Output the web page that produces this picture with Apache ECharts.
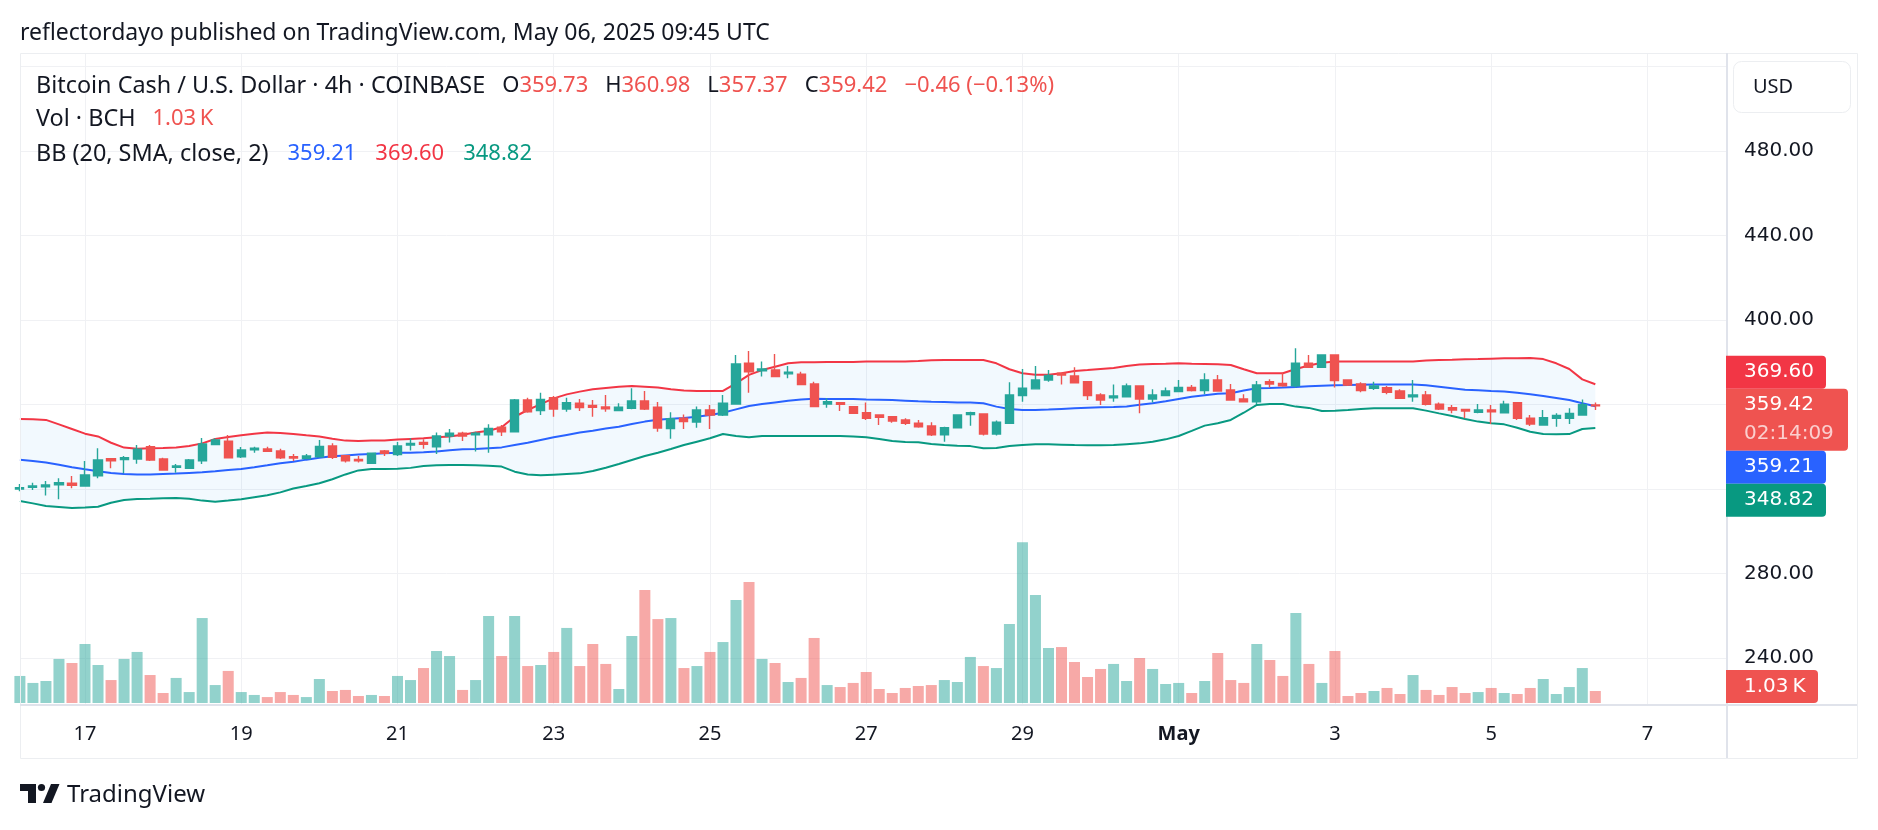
<!DOCTYPE html>
<html>
<head>
<meta charset="utf-8">
<title>BCH/USD 4h - Bollinger Bands</title>
<script src="https://cdn.jsdelivr.net/npm/echarts@6.0.0/dist/echarts.min.js"></script>
<style>
  html, body { margin: 0; padding: 0; background: #fff; }
  #chart { width: 1878px; height: 830px; }
</style>
</head>
<body>
<div id="chart"></div>
<script>
// 4h candles, Apr 16 04:00 UTC .. May 6 08:00 UTC (Coinbase BCH/USD)
const opens = [
  320.0, 320.8, 321.1, 322.0, 322.7, 321.4, 326.2, 334.4, 334.0, 334.2,
  340.0, 334.2, 330.3, 329.8, 333.3, 341.0, 342.6, 335.3, 338.5, 338.9,
  338.0, 335.3, 334.4, 335.3, 340.4, 335.8, 334.0, 332.2, 338.0, 336.3,
  340.8, 342.0, 340.0, 345.1, 346.4, 345.6, 345.6, 349.2, 347.1, 362.1,
  357.1, 363.2, 357.9, 360.6, 359.5, 358.8, 357.1, 358.2, 361.7, 358.7,
  348.6, 353.5, 351.7, 357.4, 355.0, 360.2, 379.5, 376.0, 376.3, 374.5,
  374.3, 369.7, 360.2, 360.9, 359.0, 356.1, 355.0, 354.2, 352.7, 351.1,
  349.8, 345.6, 349.0, 355.3, 355.5, 346.0, 351.1, 364.2, 367.4, 371.6,
  374.8, 373.5, 370.8, 364.5, 363.2, 363.7, 368.8, 362.6, 364.2, 366.1,
  368.1, 366.6, 371.6, 366.9, 362.6, 361.3, 370.8, 370.0, 368.9, 379.5,
  377.6, 383.4, 371.6, 369.7, 367.7, 368.0, 366.4, 363.7, 364.5, 360.2,
  358.5, 357.7, 356.3, 357.4, 356.1, 360.9, 353.5, 350.3, 353.5, 353.5,
  355.0, 359.73
];
const closes = [
  320.6, 321.4, 321.9, 323.0, 321.7, 326.6, 333.7, 333.4, 334.8, 338.8,
  333.7, 329.0, 330.9, 333.7, 341.3, 343.2, 334.8, 338.5, 339.3, 337.8,
  334.8, 334.7, 335.6, 340.2, 335.0, 333.3, 333.3, 336.9, 336.9, 340.4,
  341.6, 341.2, 345.1, 346.4, 345.1, 346.4, 348.7, 347.1, 362.1, 356.6,
  362.4, 357.9, 360.9, 358.5, 358.7, 358.0, 358.7, 361.7, 357.9, 348.9,
  353.3, 351.9, 357.4, 355.0, 360.6, 379.2, 375.5, 376.8, 373.2, 375.3,
  369.5, 359.0, 361.3, 360.1, 355.8, 353.5, 353.9, 352.2, 351.1, 349.5,
  345.6, 349.0, 355.0, 356.1, 346.0, 351.6, 364.5, 367.7, 371.6, 373.7,
  374.0, 370.3, 364.2, 362.1, 364.0, 368.8, 362.6, 364.5, 366.4, 368.1,
  366.6, 371.6, 366.4, 362.1, 361.3, 369.2, 369.7, 368.9, 379.5, 377.6,
  383.4, 371.3, 369.2, 366.6, 368.8, 365.8, 362.9, 364.5, 360.1, 357.9,
  357.4, 356.9, 357.4, 356.6, 360.2, 353.5, 350.8, 353.8, 354.8, 355.8,
  359.88, 359.42
];
const lows = [
  318.9, 319.5, 316.9, 315.1, 320.3, 321.2, 325.1, 329.8, 327.4, 332.0,
  333.3, 328.7, 327.7, 329.6, 331.8, 341.0, 334.8, 334.7, 337.2, 337.8,
  334.2, 333.3, 334.2, 335.3, 334.2, 332.5, 332.5, 331.8, 335.6, 335.6,
  338.2, 339.0, 336.6, 342.0, 342.7, 337.7, 337.2, 345.1, 346.8, 356.1,
  355.0, 354.2, 356.6, 356.9, 354.2, 356.6, 357.1, 357.7, 357.4, 347.1,
  343.8, 348.4, 349.0, 348.4, 354.6, 360.2, 365.6, 373.2, 373.2, 372.4,
  369.5, 358.7, 358.5, 356.9, 355.8, 352.7, 350.3, 351.4, 350.3, 349.0,
  345.1, 342.4, 349.0, 350.0, 345.3, 345.3, 351.1, 361.3, 367.4, 370.8,
  369.5, 370.3, 362.1, 359.8, 361.3, 363.7, 355.8, 360.9, 364.2, 366.1,
  366.1, 364.8, 366.1, 362.1, 360.9, 360.2, 368.1, 368.4, 368.1, 377.6,
  377.6, 368.1, 368.8, 365.8, 366.9, 364.8, 362.9, 361.3, 359.5, 357.4,
  355.8, 353.5, 355.8, 350.8, 356.1, 352.7, 349.8, 350.3, 349.5, 350.8,
  355.0, 357.37
];
const highs = [
  322.4, 323.0, 323.8, 325.1, 326.2, 333.3, 339.3, 334.6, 335.6, 340.8,
  340.8, 334.8, 331.8, 334.2, 344.1, 344.0, 345.6, 339.9, 340.0, 340.0,
  339.1, 336.6, 336.6, 343.2, 341.6, 335.8, 335.6, 336.9, 338.5, 342.3,
  344.0, 343.5, 346.7, 348.4, 347.1, 347.1, 350.6, 350.3, 362.6, 363.2,
  365.6, 364.0, 363.2, 362.6, 362.1, 364.5, 360.6, 367.7, 366.4, 361.2,
  356.3, 355.3, 359.0, 359.8, 364.5, 383.4, 385.3, 380.3, 383.9, 378.2,
  375.5, 370.8, 362.9, 360.9, 359.3, 360.9, 355.3, 354.2, 353.5, 352.7,
  351.6, 349.5, 355.0, 356.6, 355.8, 352.4, 370.5, 376.8, 378.2, 376.3,
  374.8, 377.6, 370.8, 365.3, 369.5, 370.0, 368.8, 367.2, 368.1, 371.6,
  369.2, 374.8, 374.0, 369.7, 364.8, 371.1, 371.9, 375.1, 386.6, 383.4,
  383.7, 383.7, 371.6, 370.5, 370.8, 368.8, 367.2, 371.6, 366.4, 360.9,
  359.8, 357.7, 360.2, 359.8, 361.8, 360.9, 355.0, 357.4, 355.8, 358.2,
  362.4, 360.98
];
// volume, thousands of BCH
const volumes = [
  2.32, 1.72, 1.89, 3.78, 3.43, 5.06, 3.26, 1.97, 3.78, 4.38,
  2.40, 0.86, 2.15, 0.94, 7.29, 1.54, 2.75, 0.94, 0.69, 0.51,
  0.94, 0.69, 0.51, 2.06, 1.03, 1.12, 0.60, 0.69, 0.60, 2.32,
  1.97, 3.00, 4.46, 4.03, 1.12, 1.97, 7.46, 4.03, 7.46, 3.17,
  3.26, 4.38, 6.44, 3.17, 5.06, 3.35, 1.20, 5.75, 9.70, 7.20,
  7.29, 3.00, 3.17, 4.38, 5.23, 8.84, 10.38, 3.78, 3.43, 1.80,
  2.15, 5.58, 1.54, 1.37, 1.72, 2.66, 1.20, 0.86, 1.29, 1.46,
  1.54, 1.97, 1.80, 3.95, 3.17, 3.00, 6.78, 13.80, 9.27, 4.72,
  4.80, 3.52, 2.23, 2.92, 3.35, 1.89, 3.86, 2.92, 1.63, 1.72,
  0.86, 1.89, 4.29, 1.97, 1.72, 5.06, 3.69, 2.32, 7.72, 3.35,
  1.72, 4.46, 0.60, 0.86, 1.03, 1.29, 0.77, 2.40, 1.12, 0.69,
  1.37, 0.86, 0.94, 1.29, 0.86, 0.77, 1.29, 2.06, 0.77, 1.37,
  3.00, 1.03
];
// Bollinger Bands (20, SMA, close, 2)
const bbUpper = [
  353.1, 353.0, 352.7, 350.6, 348.4, 346.2, 344.9, 341.9, 339.6, 339.1,
  339.3, 339.4, 339.7, 340.4, 341.6, 343.7, 344.6, 345.4, 346.2, 346.7,
  346.5, 346.0, 345.4, 344.9, 343.8, 342.9, 342.7, 342.9, 343.0, 343.4,
  343.7, 344.0, 344.5, 344.8, 345.7, 346.7, 347.6, 349.2, 354.2, 357.4,
  360.2, 362.9, 364.8, 366.1, 367.2, 367.8, 368.4, 368.8, 368.4, 368.0,
  367.2, 366.6, 366.4, 366.4, 366.4, 370.0, 374.0, 376.3, 377.9, 379.5,
  380.0, 380.0, 380.1, 380.1, 380.1, 380.3, 380.3, 380.4, 380.4, 380.6,
  380.9, 381.1, 381.1, 381.1, 381.1, 379.5, 376.7, 374.8, 374.1, 374.1,
  374.8, 375.9, 376.3, 376.8, 377.3, 378.2, 378.9, 379.2, 379.3, 379.5,
  379.3, 379.2, 379.0, 378.7, 376.7, 374.8, 374.8, 374.8, 376.8, 378.5,
  379.8, 380.3, 380.3, 380.3, 380.3, 380.3, 380.3, 380.4, 380.8, 381.1,
  381.2, 381.4, 381.5, 381.7, 381.9, 381.9, 382.0, 381.5, 379.5, 376.8,
  371.9, 369.60
];
const bbBasis = [
  333.9, 333.3, 332.5, 331.5, 330.3, 329.3, 328.4, 327.6, 327.1, 326.9,
  326.9, 327.1, 327.3, 327.6, 327.9, 328.4, 329.0, 329.5, 330.3, 331.2,
  332.2, 332.9, 333.9, 334.8, 335.5, 335.9, 336.3, 336.6, 336.9, 337.2,
  337.2, 337.4, 337.8, 338.3, 338.8, 338.9, 339.3, 339.7, 340.8, 341.9,
  343.2, 344.5, 345.6, 346.7, 347.6, 348.6, 349.5, 350.8, 351.9, 352.8,
  353.3, 353.6, 354.2, 355.0, 356.1, 357.7, 359.3, 360.2, 361.0, 361.8,
  362.4, 362.7, 362.6, 362.6, 362.6, 362.4, 362.3, 362.1, 361.8, 361.5,
  361.3, 361.2, 361.0, 360.9, 360.6, 359.0, 357.9, 357.4, 357.4, 357.6,
  357.9, 358.2, 358.5, 358.7, 358.8, 359.1, 359.9, 360.6, 361.5, 362.6,
  363.7, 364.4, 365.1, 365.3, 366.6, 367.7, 367.8, 368.0, 368.3, 368.6,
  368.9, 369.1, 369.2, 369.4, 369.5, 369.5, 369.5, 369.5, 369.1, 368.4,
  367.7, 367.0, 366.7, 366.4, 366.2, 365.6, 364.8, 364.0, 363.1, 362.1,
  360.6, 359.21
];
const bbLower = [
  314.3, 313.2, 312.0, 311.5, 311.0, 311.2, 311.6, 313.5, 314.8, 315.3,
  315.4, 315.6, 315.7, 315.4, 314.5, 314.0, 314.5, 315.1, 316.1, 317.0,
  318.4, 320.2, 321.4, 322.7, 324.6, 326.9, 328.8, 329.5, 329.5, 329.6,
  330.0, 330.9, 331.2, 331.4, 331.4, 331.2, 331.0, 330.6, 328.2, 326.9,
  326.5, 326.8, 327.1, 327.4, 328.5, 330.1, 331.8, 333.7, 335.6, 337.2,
  338.9, 340.8, 342.4, 344.0, 346.0, 345.1, 344.5, 345.1, 345.1, 345.1,
  345.1, 345.1, 345.1, 345.1, 344.9, 344.5, 343.7, 342.7, 342.3, 342.1,
  341.3, 340.8, 340.5, 340.3, 339.3, 339.4, 340.4, 340.8, 341.2, 341.2,
  341.0, 340.8, 340.7, 340.7, 340.8, 341.2, 341.6, 342.4, 343.5, 345.1,
  347.5, 350.0, 351.1, 352.7, 356.1, 359.8, 360.2, 360.2, 359.0, 358.4,
  356.9, 357.1, 357.4, 357.9, 358.2, 358.2, 358.2, 358.2, 357.1, 355.8,
  354.6, 353.1, 351.9, 351.1, 350.6, 349.0, 347.1, 346.0, 345.9, 346.0,
  348.4, 348.82
];
// time axis labels, every second day from Apr 17 00:00 UTC
const dayLabels = ['17', '19', '21', '23', '25', '27', '29', 'May', '3', '5', '7'];
const priceTicks = [480, 440, 400, 280, 240];
const countdown = '02:14:09';

const W = 1878, H = 830;
const PANE_L = 20, PANE_R = 1726, PANE_T = 53, PANE_B = 705;
const SLOT = 13.02;        // px per 4h candle
const FIRST_X = 19.9;      // x of first candle centre
const Y400 = 320, PX_USD = 2.1125;
const VOL_BASE = 703, VOL_H = 200, VOL_MAX = 17.16;
const TEXT = '#131722', GRID = '#f0f1f4';
const UP = '#26a69a', DOWN = '#ef5350';
const AXIS_FONT = '"DejaVu Sans", sans-serif';
const UI_FONT = '"Noto Sans", sans-serif';

const yPrice = p => Y400 + (400 - p) * PX_USD;
const tickLeft = FIRST_X - 7 * SLOT;   // so that tick value 12 sits on Apr 17 00:00
const idx = closes.map((_, i) => i);
const last = closes.length - 1;

const chart = echarts.init(document.getElementById('chart'));

const option = {
  animation: false,
  backgroundColor: '#ffffff',
  grid: [
    { left: PANE_L, right: W - PANE_R, top: yPrice(520), bottom: H - yPrice(240), outerBoundsMode: 'none' },
    { left: PANE_L, right: W - PANE_R, top: VOL_BASE - VOL_H, height: VOL_H, outerBoundsMode: 'none' },
    { left: tickLeft, right: W - PANE_R, top: PANE_T, bottom: H - PANE_B, outerBoundsMode: 'none' }
  ],
  xAxis: [
    { type: 'value', gridIndex: 0, min: (PANE_L - FIRST_X) / SLOT, max: (PANE_R - FIRST_X) / SLOT, show: false },
    { type: 'value', gridIndex: 1, min: (PANE_L - FIRST_X) / SLOT, max: (PANE_R - FIRST_X) / SLOT, show: false },
    {
      type: 'value', gridIndex: 2, min: 0, max: (PANE_R - tickLeft) / SLOT, interval: 12,
      axisLine: { show: false }, axisTick: { show: false },
      splitLine: { show: true, lineStyle: { color: GRID, width: 1 } },
      axisLabel: {
        margin: 19, color: TEXT, fontFamily: UI_FONT, fontSize: 20,
        formatter: v => {
          const k = Math.round(v / 12);
          if (v <= 0 || Math.abs(v - k * 12) > 1e-6) return '';
          const s = dayLabels[k - 1] || '';
          return s === 'May' ? '{b|May}' : s;
        },
        rich: { b: { fontWeight: 'bold', fontFamily: UI_FONT, fontSize: 20, color: TEXT } }
      }
    }
  ],
  yAxis: [
    {
      type: 'value', gridIndex: 0, position: 'right', min: 240, max: 520, interval: 40,
      axisLine: { show: false }, axisTick: { show: false },
      splitLine: { show: true, lineStyle: { color: GRID, width: 1 } },
      axisLabel: {
        margin: 18, color: TEXT, fontFamily: AXIS_FONT, fontSize: 20,
        formatter: v => priceTicks.includes(v) ? v.toFixed(2) : ''
      }
    },
    { type: 'value', gridIndex: 1, min: 0, max: VOL_MAX, show: false },
    { type: 'value', gridIndex: 2, min: 0, max: 1, show: false }
  ],
  series: [
    {
      // shaded area between the outer bands, one polygon through the axis scales
      name: 'BB fill', type: 'custom', xAxisIndex: 0, yAxisIndex: 0, silent: true, z: 1, clip: true,
      data: idx.map(i => [i, bbUpper[i], bbLower[i]]),
      encode: { x: 0, y: [1, 2] },
      renderItem: (params, api) => {
        if (params.dataIndex !== 0) return null;
        const top = idx.map(i => api.coord([i, bbUpper[i]]));
        const bot = idx.map(i => api.coord([i, bbLower[i]])).reverse();
        return { type: 'polygon', shape: { points: top.concat(bot) }, style: { fill: 'rgba(33,150,243,0.06)' } };
      }
    },
    {
      name: 'Upper', type: 'line', symbol: 'none', z: 2,
      data: idx.map(i => [i, bbUpper[i]]),
      lineStyle: { color: '#f23645', width: 2 }
    },
    {
      name: 'Basis', type: 'line', symbol: 'none', z: 2,
      data: idx.map(i => [i, bbBasis[i]]),
      lineStyle: { color: '#2962ff', width: 2 }
    },
    {
      name: 'Lower', type: 'line', symbol: 'none', z: 2,
      data: idx.map(i => [i, bbLower[i]]),
      lineStyle: { color: '#089981', width: 2 }
    },
    {
      name: 'Vol', type: 'bar', xAxisIndex: 1, yAxisIndex: 1, barWidth: 11, z: 1,
      data: idx.map(i => ({
        value: [i, volumes[i]],
        itemStyle: { color: closes[i] >= opens[i] ? 'rgba(38,166,154,0.5)' : 'rgba(239,83,80,0.5)' }
      }))
    },
    {
      name: 'BCHUSD', type: 'candlestick', xAxisIndex: 0, yAxisIndex: 0, barWidth: 8.6, z: 3, clip: true,
      data: idx.map(i => [i, opens[i], closes[i], lows[i], highs[i]]),
      itemStyle: { color: UP, color0: DOWN, borderColor: UP, borderColor0: DOWN, borderWidth: 1.4 }
    }
  ]
};

chart.setOption(option);

// ---- overlays: title, legend, frame, price tags, logo ----
const fmt = v => v.toFixed(2);
const chg = closes[last] - closes[last - 1];
const chgPct = chg / closes[last - 1] * 100;
const sign = v => (v < 0 ? '\u2212' : '+') + Math.abs(v).toFixed(2);

const g = [];
g.push({
  type: 'text', x: 20, y: 33, z: 100,
  style: { text: 'reflectordayo published on TradingView.com, May 06, 2025 09:45 UTC', fill: TEXT, font: '23px ' + UI_FONT, verticalAlign: 'middle' }
});

const legRich = {
  t: { fill: TEXT, font: '23.4px ' + UI_FONT },
  k: { fill: TEXT, font: '22px ' + UI_FONT, padding: [0, 0, 0, 17] },
  v: { fill: DOWN, font: '22px ' + UI_FONT },
  c: { fill: DOWN, font: '22px ' + UI_FONT, padding: [0, 0, 0, 17] },
  b: { fill: '#2962ff', font: '22px ' + UI_FONT, padding: [0, 0, 0, 19] },
  r: { fill: '#f23645', font: '22px ' + UI_FONT, padding: [0, 0, 0, 19] },
  gn: { fill: '#089981', font: '22px ' + UI_FONT, padding: [0, 0, 0, 19] }
};
g.push({
  type: 'text', x: 36, y: 86, z: 100,
  style: {
    text: '{t|Bitcoin Cash / U.S. Dollar \u00b7 4h \u00b7 COINBASE}' +
      '{k|O}{v|' + fmt(opens[last]) + '}{k|H}{v|' + fmt(highs[last]) + '}' +
      '{k|L}{v|' + fmt(lows[last]) + '}{k|C}{v|' + fmt(closes[last]) + '}' +
      '{c|' + sign(chg) + ' (' + sign(chgPct) + '%)}',
    rich: legRich, verticalAlign: 'middle'
  }
});
g.push({
  type: 'text', x: 36, y: 119, z: 100,
  style: { text: '{t|Vol \u00b7 BCH}{c|' + fmt(volumes[last]) + '\u2009K}', rich: legRich, verticalAlign: 'middle' }
});
g.push({
  type: 'text', x: 36, y: 154, z: 100,
  style: {
    text: '{t|BB (20, SMA, close, 2)}{b|' + fmt(bbBasis[last]) + '}{r|' + fmt(bbUpper[last]) + '}{gn|' + fmt(bbLower[last]) + '}',
    rich: legRich, verticalAlign: 'middle'
  }
});

// frame and separators
g.push({ type: 'rect', z: 90, silent: true, shape: { x: PANE_L + 0.5, y: PANE_T + 0.5, width: 1857 - PANE_L, height: 758 - PANE_T }, style: { fill: 'none', stroke: '#eceef1', lineWidth: 1 } });
g.push({ type: 'line', z: 91, silent: true, shape: { x1: PANE_R + 1, y1: PANE_T, x2: PANE_R + 1, y2: 758 }, style: { stroke: '#e0e3eb', lineWidth: 2 } });
g.push({ type: 'line', z: 91, silent: true, shape: { x1: PANE_L, y1: PANE_B, x2: 1857, y2: PANE_B }, style: { stroke: '#e0e3eb', lineWidth: 2 } });

// currency button
g.push({ type: 'rect', z: 100, shape: { x: 1733.5, y: 61.5, width: 117, height: 51, r: 8 }, style: { fill: '#fff', stroke: '#eceef1', lineWidth: 1 } });
g.push({ type: 'text', z: 101, x: 1753, y: 87, style: { text: 'USD', fill: TEXT, font: '20px ' + UI_FONT, verticalAlign: 'middle' } });

// price tags on the scale
const tagH = 33, mainH = 62;
const mainY = chart.convertToPixel({ yAxisIndex: 0 }, closes[last]);
const mainTop = mainY - 17;
const tag = (top, h, w, color, lines) => {
  g.push({ type: 'rect', z: 110, shape: { x: PANE_R, y: top, width: w, height: h, r: [0, 4, 4, 0] }, style: { fill: color } });
  lines.forEach((ln, k) => g.push({
    type: 'text', z: 111, x: 1744, y: top + 16.5 + k * 29,
    style: { text: ln.text, fill: ln.fill, font: '20px ' + AXIS_FONT, verticalAlign: 'middle' }
  }));
};
tag(mainTop, mainH, 122, DOWN, [{ text: fmt(closes[last]), fill: '#fff' }, { text: countdown, fill: 'rgba(255,255,255,0.72)' }]);

const others = [
  { v: bbUpper[last], color: '#f23645' },
  { v: bbBasis[last], color: '#2962ff' },
  { v: bbLower[last], color: '#089981' }
].map(o => Object.assign(o, { y: chart.convertToPixel({ yAxisIndex: 0 }, o.v) }));
let limitUp = mainTop;
others.filter(o => o.y < mainY).sort((a, b) => b.y - a.y).forEach(o => {
  const top = Math.min(o.y - tagH / 2, limitUp - tagH);
  limitUp = top;
  tag(top, tagH, 100, o.color, [{ text: fmt(o.v), fill: '#fff' }]);
});
let limitDown = mainTop + mainH;
others.filter(o => o.y >= mainY).sort((a, b) => a.y - b.y).forEach(o => {
  const top = Math.max(o.y - tagH / 2, limitDown);
  limitDown = top + tagH;
  tag(top, tagH, 100, o.color, [{ text: fmt(o.v), fill: '#fff' }]);
});

// volume tag
const volY = chart.convertToPixel({ yAxisIndex: 1 }, volumes[last]);
tag(Math.min(volY - tagH / 2, VOL_BASE - tagH), tagH, 92, DOWN, [{ text: fmt(volumes[last]) + '\u2009K', fill: '#fff' }]);

// footer logo
g.push({ type: 'rect', z: 100, shape: { x: 20, y: 784, width: 16, height: 7 }, style: { fill: TEXT } });
g.push({ type: 'rect', z: 100, shape: { x: 28, y: 784, width: 8, height: 19 }, style: { fill: TEXT } });
g.push({ type: 'circle', z: 100, shape: { cx: 41.5, cy: 787.5, r: 3.6 }, style: { fill: TEXT } });
g.push({ type: 'polygon', z: 100, shape: { points: [[43, 803], [51.5, 803], [59.5, 784], [51, 784]] }, style: { fill: TEXT } });
g.push({ type: 'text', z: 100, x: 67, y: 795, style: { text: 'TradingView', fill: TEXT, font: '24px ' + UI_FONT, verticalAlign: 'middle' } });

chart.setOption({ graphic: g });
</script>
</body>
</html>
